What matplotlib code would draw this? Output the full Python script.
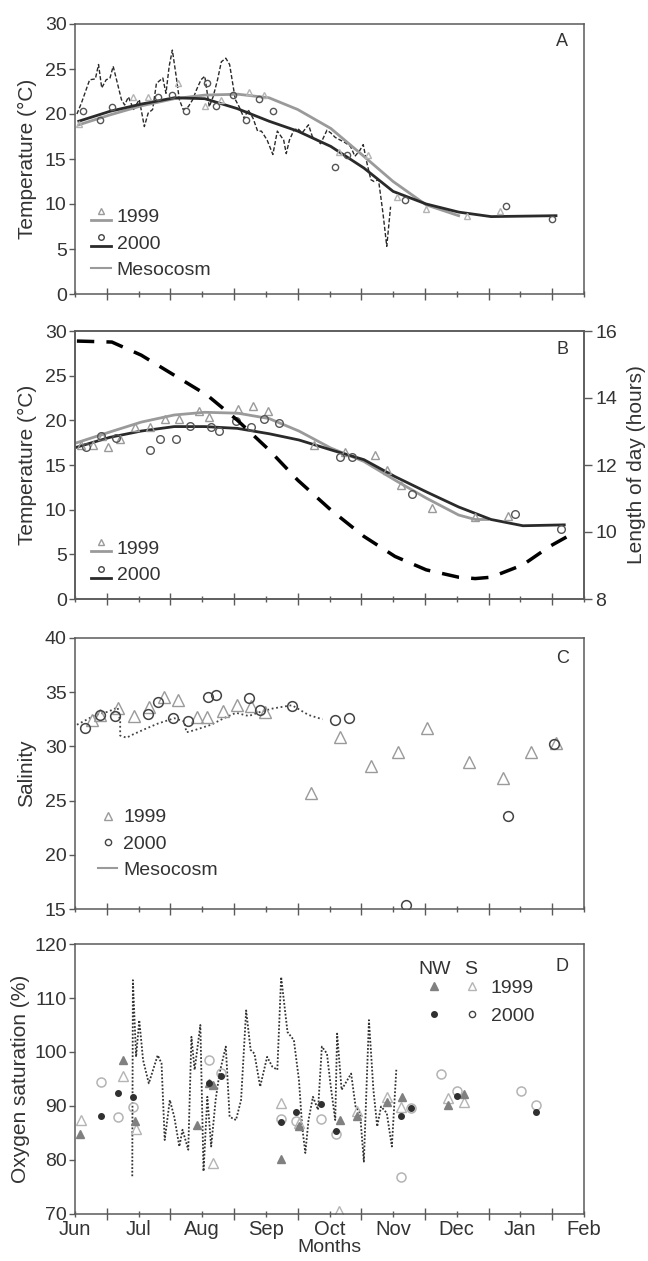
# seasonal temperature / salinity / oxygen panels
import numpy as np
import matplotlib
matplotlib.use('Agg')
from matplotlib import pyplot as plt
from matplotlib.lines import Line2D
from matplotlib.legend_handler import HandlerTuple, HandlerLine2D
from matplotlib.ticker import FixedLocator, NullFormatter

plt.rcParams['font.family'] = ['Liberation Sans', 'DejaVu Sans']

# x values are months since 1 June (0 = Jun, 8 = Feb)
months = ['Jun', 'Jul', 'Aug', 'Sep', 'Oct', 'Nov', 'Dec', 'Jan', 'Feb']

# ---- panel A : temperature
a_fit99_x = [0.06, 0.55, 1.04, 1.56, 2.04, 2.56, 3.05, 3.5, 4.02, 4.54, 5.0, 5.52, 6.03]
a_fit99_y = [18.8, 19.9, 20.9, 21.7, 22.1, 22.2, 21.8, 20.5, 18.4, 15.3, 12.5, 9.9, 8.7]
a_fit00_x = [0.06, 0.55, 1.04, 1.56, 2.04, 2.55, 3.05, 3.5, 4.02, 4.54, 5.0, 5.52, 6.03, 6.54, 7.56]
a_fit00_y = [19.2, 20.3, 21.1, 21.8, 21.7, 20.6, 19.2, 18.1, 16.4, 14.0, 11.4, 10.0, 9.1, 8.6, 8.7]
a_tri_x = [0.06, 0.91, 1.14, 1.62, 2.04, 2.30, 2.73, 2.97, 4.15, 4.61, 5.06, 5.52, 6.16, 6.68]
a_tri_y = [18.9, 21.9, 21.9, 23.5, 20.9, 21.6, 22.5, 22.1, 15.8, 15.4, 10.8, 9.5, 8.7, 9.2]
a_cir_x = [0.13, 0.39, 0.58, 1.30, 1.52, 1.75, 2.08, 2.21, 2.48, 2.69, 2.89, 3.11, 4.08, 4.27, 5.19, 6.78, 7.49]
a_cir_y = [20.3, 19.3, 20.8, 21.9, 22.1, 20.3, 23.4, 20.9, 22.1, 19.3, 21.7, 20.3, 14.1, 15.5, 10.4, 9.8, 8.3]
a_meso_x = [0.03, 0.10, 0.23, 0.32, 0.37, 0.42, 0.49, 0.55, 0.60, 0.66, 0.73, 0.78, 0.84,
            0.92, 1.01, 1.09, 1.15, 1.22, 1.28, 1.38, 1.43, 1.48, 1.53, 1.59, 1.64, 1.70,
            1.78, 1.85, 1.91, 1.98, 2.04, 2.11, 2.17, 2.24, 2.30, 2.37, 2.43, 2.52, 2.58,
            2.66, 2.72, 2.80, 2.87, 2.93, 3.02, 3.11, 3.18, 3.28, 3.32, 3.37, 3.44, 3.50,
            3.57, 3.67, 3.73, 3.80, 3.86, 3.96, 4.02, 4.09, 4.17, 4.25, 4.33, 4.40, 4.48,
            4.53, 4.59, 4.65, 4.70, 4.77, 4.84, 4.90, 4.96]
a_meso_y = [20.0, 21.2, 23.8, 23.9, 25.5, 22.9, 23.8, 24.0, 25.3, 23.6, 21.6, 21.0, 21.9,
            20.5, 21.6, 18.6, 20.1, 20.5, 23.4, 24.0, 22.3, 25.3, 27.1, 24.2, 21.6, 20.5,
            20.8, 21.6, 22.7, 23.8, 24.2, 20.8, 21.9, 23.8, 25.8, 26.2, 25.5, 21.6, 20.8,
            19.5, 20.5, 19.5, 18.1, 18.1, 17.1, 15.5, 18.1, 17.1, 15.6, 17.1, 18.2, 18.4,
            17.9, 18.8, 17.5, 17.1, 16.7, 18.2, 17.9, 17.4, 17.1, 16.8, 16.4, 15.3, 16.0,
            16.6, 14.5, 12.7, 12.5, 12.7, 9.0, 5.3, 9.7]

# ---- panel B : temperature fits + day length
b_fit99_x = [0.03, 0.55, 1.04, 1.56, 2.04, 2.56, 3.05, 3.52, 4.02, 4.54, 5.03, 5.52, 6.03, 6.29, 6.49]
b_fit99_y = [17.5, 18.7, 19.8, 20.6, 20.9, 20.8, 20.2, 18.8, 16.9, 15.4, 13.3, 11.3, 9.4, 8.9, 8.9]
b_fit00_x = [0.03, 0.55, 1.04, 1.56, 2.04, 2.55, 3.05, 3.52, 4.02, 4.54, 5.03, 5.52, 6.03, 6.54, 7.04, 7.69]
b_fit00_y = [17.0, 18.1, 18.8, 19.3, 19.3, 19.1, 18.5, 17.8, 16.7, 15.6, 13.7, 12.0, 10.3, 8.9, 8.2, 8.3]
b_tri_x = [0.10, 0.29, 0.42, 0.52, 0.71, 0.94, 1.18, 1.41, 1.64, 1.95, 2.10, 2.56, 2.80, 3.03,
           3.76, 4.25, 4.72, 4.90, 5.13, 5.61, 6.28, 6.81]
b_tri_y = [17.2, 17.2, 18.3, 17.0, 17.9, 19.2, 19.3, 20.2, 20.2, 21.1, 20.4, 21.3, 21.6, 21.1,
           17.2, 16.4, 16.1, 14.4, 12.8, 10.2, 9.2, 9.3]
b_cir_x = [0.18, 0.41, 0.65, 1.18, 1.34, 1.58, 1.80, 2.14, 2.27, 2.53, 2.76, 2.97, 3.21,
           4.17, 4.36, 5.29, 6.91, 7.64]
b_cir_y = [17.0, 18.3, 18.0, 16.7, 17.9, 17.9, 19.4, 19.3, 18.8, 19.9, 19.3, 20.2, 19.7,
           15.9, 15.9, 11.8, 9.5, 7.8]
day_x = [0.03, 0.58, 1.04, 1.56, 2.08, 2.55, 3.05, 3.50, 4.02, 4.54, 5.03, 5.52, 6.03, 6.29,
         6.54, 7.04, 7.46, 7.79]
day_h = [15.70, 15.67, 15.28, 14.68, 14.08, 13.34, 12.45, 11.55, 10.66, 9.87, 9.27, 8.87,
         8.65, 8.61, 8.65, 9.02, 9.57, 9.92]

# ---- panel C : salinity
c_tri_x = [0.26, 0.40, 0.68, 0.92, 1.16, 1.40, 1.62, 1.91, 2.08, 2.32, 2.54, 2.76, 2.99,
           3.71, 4.17, 4.66, 5.08, 5.54, 6.20, 6.73, 7.16, 7.56]
c_tri_y = [32.4, 32.9, 33.5, 32.8, 33.6, 34.6, 34.3, 32.7, 32.7, 33.3, 33.8, 33.7, 33.2,
           25.7, 30.9, 28.2, 29.5, 31.7, 28.6, 27.1, 29.5, 30.3]
c_cir_x = [0.16, 0.39, 0.63, 1.15, 1.30, 1.54, 1.77, 2.09, 2.22, 2.73, 2.91, 3.41, 4.09,
           4.30, 5.20, 6.81, 7.53]
c_cir_y = [31.7, 32.9, 32.8, 33.0, 34.1, 32.6, 32.3, 34.6, 34.7, 34.5, 33.4, 33.7, 32.4,
           32.6, 15.4, 23.6, 30.2]
c_meso_x = [0.03, 0.13, 0.32, 0.52, 0.67, 0.71, 0.71, 0.81, 0.91, 1.10, 1.30, 1.56, 1.72,
            1.75, 1.88, 2.14, 2.34, 2.53, 2.73, 2.92, 3.11, 3.41, 3.67, 3.89]
c_meso_y = [32.0, 32.3, 32.9, 33.2, 33.6, 32.3, 31.0, 30.8, 31.1, 31.6, 32.1, 32.6, 32.3,
            31.3, 31.5, 32.0, 32.6, 33.1, 32.8, 33.2, 33.5, 33.8, 32.9, 32.5]

# ---- panel D : oxygen saturation
d_meso_x = [0.90, 0.91, 0.96, 1.01, 1.07, 1.16, 1.30, 1.36, 1.41, 1.49, 1.56, 1.64, 1.69,
            1.78, 1.83, 1.88, 1.97, 2.02, 2.08, 2.14, 2.21, 2.27, 2.37, 2.43, 2.53, 2.61,
            2.69, 2.76, 2.82, 2.91, 3.02, 3.10, 3.18, 3.24, 3.34, 3.44, 3.52, 3.57, 3.62,
            3.67, 3.74, 3.82, 3.88, 3.96, 4.02, 4.09, 4.12, 4.19, 4.25, 4.34, 4.41, 4.48,
            4.54, 4.62, 4.69, 4.75, 4.81, 4.90, 4.98, 5.05]
d_meso_y = [77.0, 113.3, 99.1, 105.9, 98.5, 94.2, 99.4, 97.9, 83.7, 91.1, 88.0, 82.5, 85.6,
            81.9, 102.8, 96.7, 105.0, 77.9, 91.7, 82.5, 91.1, 96.0, 101.0, 88.0, 87.4, 91.1,
            107.7, 100.4, 99.7, 93.6, 99.1, 97.3, 96.7, 113.9, 103.7, 102.2, 94.8, 86.2, 81.3,
            87.4, 91.7, 89.3, 101.0, 99.7, 93.6, 87.4, 103.4, 93.0, 94.2, 96.0, 89.9, 88.7,
            79.7, 105.9, 93.0, 86.2, 89.9, 88.7, 82.5, 96.7]
nw99_x = [0.08, 0.75, 0.95, 1.91, 2.11, 2.17, 3.24, 3.52, 4.17, 4.44, 4.90, 5.14, 5.87, 6.11]
nw99_y = [84.8, 98.5, 87.2, 86.5, 94.2, 93.9, 80.2, 86.3, 87.4, 88.2, 90.8, 91.6, 90.2, 92.2]
s99_x = [0.09, 0.75, 0.96, 2.17, 3.24, 3.52, 4.15, 4.44, 4.90, 5.13, 5.87, 6.11]
s99_y = [87.4, 95.6, 85.7, 79.4, 90.5, 86.8, 70.5, 89.0, 91.7, 89.8, 91.4, 90.8]
nw00_x = [0.41, 0.68, 0.91, 2.11, 2.30, 3.24, 3.47, 3.86, 4.10, 5.13, 5.28, 6.00, 7.24]
nw00_y = [88.2, 92.5, 91.7, 94.3, 95.6, 87.0, 88.9, 90.3, 85.3, 88.2, 89.6, 91.9, 88.9]
s00_x = [0.41, 0.68, 0.91, 2.11, 2.30, 3.24, 3.47, 3.86, 4.10, 5.13, 5.28, 5.76, 6.00, 7.01, 7.24]
s00_y = [94.4, 88.0, 89.8, 98.6, 96.2, 87.6, 87.2, 87.6, 84.8, 76.8, 89.6, 96.0, 92.8, 92.7, 90.1]

GRAY = '#9a9a9a'
LIGHT = '#b4b4b4'
DARK = '#2a2a2a'
SPINE = '#5a5a5a'
TXT = '#333333'
TICK = 14
LAB = 15


class Shifted(HandlerLine2D):
  # legend entry drawn a bit above or below the text centre
  def __init__(self, dy, **kw):
    super().__init__(**kw)
    self.dy = dy

  def create_artists(self, legend, orig_handle, xdescent, ydescent, width, height, fontsize, trans):
    arts = super().create_artists(legend, orig_handle, xdescent, ydescent, width, height, fontsize, trans)
    for a in arts:
      a.set_ydata(np.asarray(a.get_ydata(), float) + self.dy * height)
    return arts


fig = plt.figure(figsize=(6.48, 12.61), dpi=100)
W, H = 648.0, 1261.0
def panel(top, bottom):
  return fig.add_axes([75 / W, 1 - bottom / H, 509 / W, (bottom - top) / H])

axA = panel(24, 294)
axB = panel(331, 599)
axC = panel(638, 909)
axD = panel(944, 1214)

def style(ax, letter, ly):
  ax.set_xlim(0, 8)
  ax.xaxis.set_major_locator(FixedLocator(np.arange(0.5, 8, 1.0)))
  ax.xaxis.set_minor_locator(FixedLocator(np.arange(0, 9, 1.0)))
  ax.xaxis.set_major_formatter(NullFormatter())
  ax.xaxis.set_minor_formatter(NullFormatter())
  ax.tick_params(axis='x', which='major', direction='inout', length=9, width=1, color=SPINE)
  ax.tick_params(axis='x', which='minor', direction='inout', length=5, width=1, color=SPINE)
  ax.tick_params(axis='y', direction='out', length=4, width=1, color=SPINE,
                 labelsize=TICK, labelcolor=TXT, pad=2)
  for s in ax.spines.values():
    s.set_color(SPINE)
    s.set_linewidth(1.1)
  ax.text(0.957, ly, letter, transform=ax.transAxes, fontsize=13, color=TXT, ha='center', va='center')

def leg(ax, handles, labels, anchor, hmap):
  hmap = dict(hmap)
  hmap[tuple] = HandlerTuple(ndivide=1)
  ax.legend(handles, labels, loc='lower left', bbox_to_anchor=anchor, frameon=False,
            fontsize=TICK, handlelength=1.0, handletextpad=0.3, labelspacing=0.45,
            borderpad=0, borderaxespad=0, handler_map=hmap, labelcolor=TXT)

up = Shifted(0.35)
down = Shifted(-0.3)

# ---- A
axA.plot(a_meso_x, a_meso_y, color=DARK, lw=1.0, dashes=(3, 1.5))
axA.plot(a_fit99_x, a_fit99_y, color=GRAY, lw=2)
axA.plot(a_fit00_x, a_fit00_y, color=DARK, lw=2)
axA.plot(a_tri_x, a_tri_y, ls='none', marker='^', ms=5, mfc='none', mec=LIGHT, mew=1)
axA.plot(a_cir_x, a_cir_y, ls='none', marker='o', ms=4.5, mfc='none', mec='#555555', mew=1)
axA.set_ylim(0, 30)
axA.set_yticks(range(0, 31, 5))
axA.set_ylabel('Temperature (°C)', fontsize=LAB, color=TXT, labelpad=6)
style(axA, 'A', 0.935)
l99, m99 = Line2D([], [], color=GRAY, lw=2), Line2D([], [], ls='none', marker='^', ms=5, mfc='none', mec=GRAY)
l00, m00 = Line2D([], [], color=DARK, lw=2), Line2D([], [], ls='none', marker='o', ms=4, mfc='none', mec='#444444')
hme = Line2D([], [], color=GRAY, lw=1.5)
leg(axA, [(l99, m99), (l00, m00), hme], ['1999', '2000', 'Mesocosm'], (0.032, 0.055),
    {l99: down, m99: up, l00: down, m00: up})

# ---- B
axB2 = axB.twinx()
axB2.plot(day_x, day_h, color='black', lw=2.5, dashes=(5, 3.5))
axB2.set_ylim(8, 16)
axB2.set_yticks(range(8, 17, 2))
axB2.tick_params(axis='y', direction='out', length=6, width=1, color=SPINE,
                 labelsize=TICK, labelcolor=TXT, pad=2)
axB2.set_ylabel('Length of day (hours)', fontsize=LAB, color=TXT, labelpad=7)
axB.plot(b_fit99_x, b_fit99_y, color=GRAY, lw=2)
axB.plot(b_fit00_x, b_fit00_y, color=DARK, lw=2)
axB.plot(b_tri_x, b_tri_y, ls='none', marker='^', ms=5.5, mfc='none', mec=GRAY, mew=1)
axB.plot(b_cir_x, b_cir_y, ls='none', marker='o', ms=5.5, mfc='none', mec='#555555', mew=1)
axB.set_ylim(0, 30)
axB.set_yticks(range(0, 31, 5))
axB.set_ylabel('Temperature (°C)', fontsize=LAB, color=TXT, labelpad=6)
style(axB, 'B', 0.93)
for s in axB2.spines.values():
  s.set_color(SPINE)
  s.set_linewidth(1.1)
leg(axB, [(l99, m99), (l00, m00)], ['1999', '2000'], (0.032, 0.055),
    {l99: down, m99: up, l00: down, m00: up})

# ---- C
axC.plot(c_meso_x, c_meso_y, color='#444444', lw=1.3, ls=(0, (1, 1.5)))
axC.plot(c_tri_x, c_tri_y, ls='none', marker='^', ms=8, mfc='none', mec=GRAY, mew=1)
axC.plot(c_cir_x, c_cir_y, ls='none', marker='o', ms=7, mfc='none', mec='#444444', mew=1.1)
axC.set_ylim(15, 40)
axC.set_yticks(range(15, 41, 5))
axC.set_ylabel('Salinity', fontsize=LAB, color=TXT, labelpad=6)
style(axC, 'C', 0.924)
hc99 = Line2D([], [], ls='none', marker='^', ms=5.5, mfc='none', mec=GRAY)
hc00 = Line2D([], [], ls='none', marker='o', ms=4.5, mfc='none', mec='#444444')
leg(axC, [hc99, hc00, hme], ['1999', '2000', 'Mesocosm'], (0.045, 0.11), {})

# ---- D
axD.plot(d_meso_x, d_meso_y, color='#333333', lw=1.3, ls=(0, (1, 1)))
axD.plot(s99_x, s99_y, ls='none', marker='^', ms=7, mfc='none', mec=LIGHT, mew=1)
axD.plot(s00_x, s00_y, ls='none', marker='o', ms=6.5, mfc='none', mec=LIGHT, mew=1.1)
axD.plot(nw99_x, nw99_y, ls='none', marker='^', ms=5.5, mfc='#808080', mec='#808080')
axD.plot(nw00_x, nw00_y, ls='none', marker='o', ms=4, mfc='#303030', mec='#303030')
axD.set_ylim(70, 120)
axD.set_yticks(range(70, 121, 10))
axD.set_ylabel('Oxygen saturation (%)', fontsize=LAB, color=TXT, labelpad=3)
style(axD, 'D', 0.915)
axD.xaxis.set_minor_formatter(plt.FixedFormatter(months))
axD.tick_params(axis='x', which='minor', labelsize=14.5, labelcolor=TXT, pad=2)
axD.set_xlabel('Months', fontsize=14, color=TXT, labelpad=0)
axD.spines['top'].set_linestyle((0, (1, 1)))
axD.spines['right'].set_linestyle((0, (1, 1)))
hd99 = (Line2D([], [], ls='none', marker='^', ms=5.5, mfc='#808080', mec='#808080'),
        Line2D([], [], ls='none', marker='^', ms=5.5, mfc='none', mec=LIGHT))
hd00 = (Line2D([], [], ls='none', marker='o', ms=4, mfc='#303030', mec='#303030'),
        Line2D([], [], ls='none', marker='o', ms=4.5, mfc='none', mec='#444444'))
axD.legend([hd99, hd00], ['1999', '2000'], loc='upper left', bbox_to_anchor=(0.668, 0.87),
           frameon=False, fontsize=TICK, handlelength=3.9, handletextpad=0.0,
           labelspacing=0.55, borderpad=0, borderaxespad=0,
           handler_map={tuple: HandlerTuple(ndivide=None, pad=0)}, labelcolor=TXT)
axD.text(0.706, 0.905, 'NW', transform=axD.transAxes, fontsize=TICK, color=TXT, ha='center', va='center')
axD.text(0.778, 0.905, 'S', transform=axD.transAxes, fontsize=TICK, color=TXT, ha='center', va='center')

plt.savefig('out.png', dpi=100)
